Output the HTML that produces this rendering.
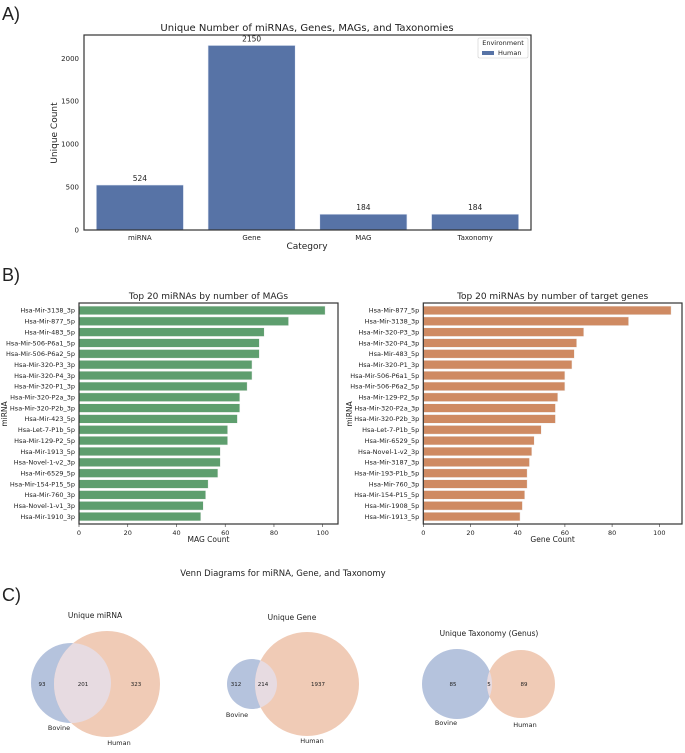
<!DOCTYPE html>
<html><head><meta charset="utf-8"><style>
body{margin:0;background:#fff;font-family:"Liberation Sans","DejaVu Sans",sans-serif}
svg text{font-family:"DejaVu Sans","Liberation Sans",sans-serif;fill:#222}
</style></head><body>
<svg id="s" width="685" height="748" xmlns="http://www.w3.org/2000/svg">
<text x="2" y="20" font-size="18" style="font-family:'Liberation Sans',sans-serif">A)</text>
<text x="2" y="281" font-size="18" style="font-family:'Liberation Sans',sans-serif">B)</text>
<text x="2" y="601" font-size="18" style="font-family:'Liberation Sans',sans-serif">C)</text>
<g id="ga"></g>
<g id="gb1"></g>
<g id="gb2"></g>
<g id="gc"></g>
</svg>
<script>
const catsA=["miRNA","Gene","MAG","Taxonomy"];
const valsA=[524,2150,184,184];
const ticksA=[0,500,1000,1500,2000];
const namesB1=["Hsa-Mir-3138_3p","Hsa-Mir-877_5p","Hsa-Mir-483_5p","Hsa-Mir-506-P6a1_5p","Hsa-Mir-506-P6a2_5p","Hsa-Mir-320-P3_3p","Hsa-Mir-320-P4_3p","Hsa-Mir-320-P1_3p","Hsa-Mir-320-P2a_3p","Hsa-Mir-320-P2b_3p","Hsa-Mir-423_5p","Hsa-Let-7-P1b_5p","Hsa-Mir-129-P2_5p","Hsa-Mir-1913_5p","Hsa-Novel-1-v2_3p","Hsa-Mir-6529_5p","Hsa-Mir-154-P15_5p","Hsa-Mir-760_3p","Hsa-Novel-1-v1_3p","Hsa-Mir-1910_3p"];
const valsB1=[101,86,76,74,74,71,71,69,66,66,65,61,61,58,58,57,53,52,51,50];
const namesB2=["Hsa-Mir-877_5p","Hsa-Mir-3138_3p","Hsa-Mir-320-P3_3p","Hsa-Mir-320-P4_3p","Hsa-Mir-483_5p","Hsa-Mir-320-P1_3p","Hsa-Mir-506-P6a1_5p","Hsa-Mir-506-P6a2_5p","Hsa-Mir-129-P2_5p","Hsa-Mir-320-P2a_3p","Hsa-Mir-320-P2b_3p","Hsa-Let-7-P1b_5p","Hsa-Mir-6529_5p","Hsa-Novel-1-v2_3p","Hsa-Mir-3187_3p","Hsa-Mir-193-P1b_5p","Hsa-Mir-760_3p","Hsa-Mir-154-P15_5p","Hsa-Mir-1908_5p","Hsa-Mir-1913_5p"];
const valsB2=[105,87,68,65,64,63,60,60,57,56,56,50,47,46,45,44,44,43,42,41];
const ticksB=[0,20,40,60,80,100];
const vennTitles=["Unique miRNA","Unique Gene","Unique Taxonomy (Genus)"];
const vennBovine=[93,312,85];
const vennShared=[201,214,5];
const vennHuman=[323,1937,89];

const NS="http://www.w3.org/2000/svg";
function mk(p,tag,at,txt){const e=document.createElementNS(NS,tag);for(const k in at)e.setAttribute(k,at[k]);if(txt!==undefined)e.textContent=txt;p.appendChild(e);return e;}

// Panel A
(function(){
 const g=document.getElementById('ga');
 const L=84,R=531,T=35,B=230;
 const y=v=>B-v*(B-58.3)/2000;
 const band=(R-L)/catsA.length;
 let t=mk(g,'text',{x:307,y:31,'font-size':10,'text-anchor':'middle'},"Unique Number of miRNAs, Genes, MAGs, and Taxonomies");
 
 ticksA.forEach(v=>{const e=mk(g,'text',{x:L-5,y:y(v)+2.5,'font-size':7,'text-anchor':'end'},v);
  });
 catsA.forEach((c,i)=>{
  const cx=L+band*(i+0.5),w=band*0.78;
  const r=mk(g,'rect',{x:cx-w/2,y:y(valsA[i]),width:w,height:B-y(valsA[i]),fill:'#5773a6',stroke:'#e8eef8','stroke-width':0.6});
  
  const v=mk(g,'text',{x:cx,y:y(valsA[i])-4,'font-size':7.5,'text-anchor':'middle'},valsA[i]);
  
  const xl=mk(g,'text',{x:cx,y:B+10,'font-size':7,'text-anchor':'middle'},c);
  
 });
 const bx=mk(g,'rect',{x:L,y:T,width:R-L,height:B-T,fill:'none',stroke:'#333','stroke-width':1.2});
 
 const xt=mk(g,'text',{x:307,y:249,'font-size':9,'text-anchor':'middle'},"Category");
 
 const yt=mk(g,'text',{x:57,y:133,'font-size':9,'text-anchor':'middle',transform:'rotate(-90 57 133)'},"Unique Count");
 
 const lg=mk(g,'g',{});
 mk(lg,'rect',{x:478,y:38,width:50,height:20,fill:'#fff',stroke:'#ccc','stroke-width':0.6,rx:1.5});
 mk(lg,'text',{x:503,y:45,'font-size':6.5,'text-anchor':'middle'},"Environment");
 mk(lg,'rect',{x:482,y:51,width:12,height:4,fill:'#5773a6'});
 mk(lg,'text',{x:498,y:55,'font-size':6.5},"Human");
})();

// Panel B
function hbar(id,names,vals,L,R,unit,color,title,xlabel,ylx){
 const g=document.getElementById(id);
 const T=303,B=524;
 const x=v=>L+v*unit;
 const step=(B-T-4)/names.length;
 const tt=mk(g,'text',{x:(L+R)/2,y:299,'font-size':9,'text-anchor':'middle'},title);
 
 names.forEach((n,i)=>{
  const cy=T+2+step*(i+0.5),h=step*0.8;
  const r=mk(g,'rect',{x:L,y:cy-h/2,width:x(vals[i])-L,height:h,fill:color,stroke:'#f2f2f2','stroke-width':0.5});
  
  const l=mk(g,'text',{x:L-4,y:cy+2.3,'font-size':6.5,'text-anchor':'end'},n);
  
 });
 ticksB.forEach(v=>{mk(g,'line',{x1:x(v),x2:x(v),y1:B,y2:B+3,stroke:'#333','stroke-width':0.6});
  const e=mk(g,'text',{x:x(v),y:B+11,'font-size':6.5,'text-anchor':'middle'},v);
  });
 const bx=mk(g,'rect',{x:L,y:T,width:R-L,height:B-T,fill:'none',stroke:'#333','stroke-width':1.2});
 
 const xt=mk(g,'text',{x:(L+R)/2,y:542,'font-size':7.5,'text-anchor':'middle'},xlabel);
 
 const yt=mk(g,'text',{x:ylx,y:414,'font-size':7.5,'text-anchor':'middle',transform:'rotate(-90 '+ylx+' 414)'},"miRNA");
 
}
hbar('gb1',namesB1,valsB1,79,338,2.437,'#5e9e6e',"Top 20 miRNAs by number of MAGs","MAG Count",7);
hbar('gb2',namesB2,valsB2,423.3,682,2.36,'#cf8a62',"Top 20 miRNAs by number of target genes","Gene Count",352);

// Panel C
(function(){
 const g=document.getElementById('gc');
 const t=mk(g,'text',{x:283,y:576,'font-size':8.5,'text-anchor':'middle'},"Venn Diagrams for miRNA, Gene, and Taxonomy");
 
 const geo=[{tx:95,ty:618,b:[71,683,40],h:[107,684,53],lx:[42,83,136],bl:[59,730],hl:[119,745]},
            {tx:292,ty:620,b:[252,684,25],h:[307,684,52],lx:[236,263,318],bl:[237,717],hl:[312,743]},
            {tx:489,ty:636,b:[457,684,35],h:[521,684,34],lx:[453,489,524],bl:[446,725],hl:[525,727]}];
 geo.forEach((o,i)=>{
  const vg=mk(g,'g',{});
  const cp='clip'+i;
  const d=mk(vg,'defs',{});const c=mk(d,'clipPath',{id:cp});mk(c,'circle',{cx:o.b[0],cy:o.b[1],r:o.b[2]});
  const tt=mk(vg,'text',{x:o.tx,y:o.ty,'font-size':7.5,'text-anchor':'middle'},vennTitles[i]);
  
  const cb=mk(vg,'circle',{cx:o.b[0],cy:o.b[1],r:o.b[2],fill:'#b5c3dd'});
  
  const ch=mk(vg,'circle',{cx:o.h[0],cy:o.h[1],r:o.h[2],fill:'#f0cbb6'});
  
  mk(vg,'circle',{cx:o.h[0],cy:o.h[1],r:o.h[2],fill:'#e7dbe1','clip-path':'url(#'+cp+')'});
  [vennBovine[i],vennShared[i],vennHuman[i]].forEach((v,k)=>{
   const e=mk(vg,'text',{x:o.lx[k],y:686,'font-size':5.5,'text-anchor':'middle'},v);
   });
  const bl=mk(vg,'text',{x:o.bl[0],y:o.bl[1],'font-size':6.5,'text-anchor':'middle'},"Bovine");
  
  const hl=mk(vg,'text',{x:o.hl[0],y:o.hl[1],'font-size':6.5,'text-anchor':'middle'},"Human");
  
 });
})();
</script>
</body></html>
